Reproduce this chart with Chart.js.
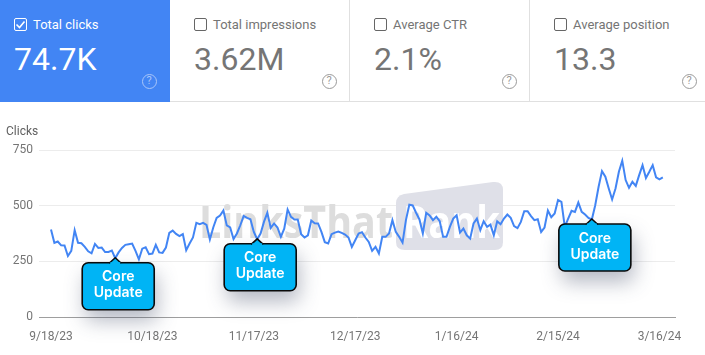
<!DOCTYPE html>
<html lang="en">
<head>
<meta charset="UTF-8">
<title>Search performance</title>
<script src="https://cdn.jsdelivr.net/npm/chart.js"></script>
<style>
  html, body { margin: 0; padding: 0; background: #fff; }
  body { width: 705px; height: 355px; position: relative; overflow: hidden; font-family: Roboto, sans-serif; }
  .cards { position: absolute; left: 0; top: 0; width: 705px; height: 102px; border-bottom: 1px solid #e0e0e0; box-sizing: border-box; display: flex; }
  .card { position: relative; box-sizing: border-box; color: #757575; border-right: 1px solid #e0e0e0; }
  .card:last-child { border-right: 0; }
  .card.on { background: #4285f4; color: #fff; border-right: 0; height: 102px; }
  .card .box { position: absolute; box-sizing: border-box; left: 24px; top: 18px; width: 13px; height: 13px; border: 1px solid #666; border-radius: 2px; }
  .card.on .box { left: 14px; border-color: #fff; }
  .card .name { position: absolute; left: 43px; top: 16px; font-size: 13px; line-height: 17px; white-space: nowrap; }
  .card.on .name { left: 33px; }
  .card .num { position: absolute; left: 24px; top: 40px; font-size: 32px; line-height: 38px; white-space: nowrap; }
  .card.on .num { left: 14px; }
  .card .help { position: absolute; box-sizing: border-box; left: 151.5px; top: 73.5px; width: 15px; height: 15px; border: 1.5px solid #9a9a9a; border-radius: 50%; font-size: 11px; line-height: 12px; text-align: center; color: #9a9a9a; }
  .card.on .help { left: 141.5px; border-color: #a9c6fa; color: #a9c6fa; }
  #wrap { position: absolute; left: 0; top: 102px; width: 705px; height: 253px; }
</style>
</head>
<body>
<div class="cards" id="cards"></div>
<div id="wrap"><canvas id="clicksChart" width="705" height="253"></canvas></div>
<script>
const cardNames = ['Total clicks', 'Total impressions', 'Average CTR', 'Average position'];
const cardValues = ['74.7K', '3.62M', '2.1%', '13.3'];
const cardWidths = [170, 180, 180, 175];

const tickLabels = ['9/18/23', '10/18/23', '11/17/23', '12/17/23', '1/16/24', '2/15/24', '3/16/24'];
const clicks = [
  393, 333, 339, 322, 321, 274, 297, 390, 333, 331, 315, 295, 286, 328, 310, 312, 292, 292, 298, 264,
  290, 310, 324, 327, 330, 297, 259, 307, 313, 282, 285, 324, 290, 288, 312, 378, 388, 373, 363, 372,
  300, 330, 357, 423, 417, 423, 414, 348, 402, 445, 456, 478, 411, 402, 350, 375, 412, 454, 445, 439,
  382, 349, 375, 427, 468, 400, 420, 402, 360, 397, 483, 450, 438, 438, 372, 357, 367, 433, 421, 420,
  382, 336, 330, 372, 379, 384, 378, 370, 357, 315, 345, 375, 381, 357, 337, 297, 315, 285, 360, 360,
  375, 435, 382, 360, 334, 435, 504, 501, 468, 438, 375, 468, 456, 435, 450, 430, 360, 360, 405, 442,
  457, 379, 397, 367, 352, 420, 442, 390, 430, 405, 415, 367, 430, 417, 442, 460, 445, 408, 399, 427,
  475, 475, 453, 435, 439, 382, 402, 478, 448, 465, 525, 517, 405, 442, 477, 472, 514, 472, 460, 445,
  438, 502, 585, 655, 630, 577, 528, 577, 652, 702, 615, 580, 607, 589, 637, 682, 624, 652, 682, 627,
  618, 627
];
// x axis: one slot a day, a tick every 30 days
const days = clicks.map((v, i) => i);
const calloutDays = [19, 61, 160];
const calloutText = ['Core', 'Update'];
const watermarkDark = 'LinksThat';
const watermarkLight = 'Rank';

const cards = document.getElementById('cards');
cardNames.forEach((name, i) => {
  const c = document.createElement('div');
  c.className = 'card' + (i === 0 ? ' on' : '');
  c.style.width = cardWidths[i] + 'px';
  c.innerHTML = '<div class="box"></div><div class="name">' + name + '</div>' +
    '<div class="num">' + cardValues[i] + '</div><div class="help">?</div>';
  cards.appendChild(c);
});
// tick inside the selected checkbox
cards.querySelector('.on .box').innerHTML =
  '<svg width="11" height="11" viewBox="0 0 11 11" style="display:block"><path d="M1.5 5.5l3 3 5-6" fill="none" stroke="#fff" stroke-width="1.6"/></svg>';

function roundedPath(ctx, x, y, w, h, r) {
  ctx.beginPath();
  ctx.roundRect(x, y, w, h, r);
}

// watermark sits under the line
const watermark = {
  id: 'watermark',
  beforeDatasetsDraw(chart) {
    const ctx = chart.ctx;
    ctx.save();
    ctx.fillStyle = '#dfe0e8';
    ctx.beginPath();
    ctx.moveTo(396, 101);
    ctx.quadraticCurveTo(396, 94, 404, 92);
    ctx.lineTo(493, 80);
    ctx.quadraticCurveTo(503, 79, 503, 88);
    ctx.lineTo(503, 140);
    ctx.quadraticCurveTo(503, 148, 495, 148);
    ctx.lineTo(405, 148);
    ctx.quadraticCurveTo(396, 148, 396, 140);
    ctx.closePath();
    ctx.fill();
    ctx.font = 'bold 45px "Open Sans", sans-serif';
    ctx.textBaseline = 'alphabetic';
    ctx.fillStyle = '#dddddd';
    ctx.fillText(watermarkDark, 199, 136, 194);
    ctx.fillStyle = '#ffffff';
    ctx.fillText(watermarkLight, 403, 136, 97);
    ctx.restore();
  }
};

// callouts point at the day they mark
const callouts = {
  id: 'callouts',
  afterDatasetsDraw(chart) {
    const ctx = chart.ctx;
    const xs = chart.scales.x, ys = chart.scales.y;
    calloutDays.forEach((d) => {
      const px = xs.getPixelForValue(d);
      const py = ys.getPixelForValue(clicks[d]) - 0.5;
      const w = 72, h = 47, left = px - 33, top = py + 5;
      ctx.save();
      ctx.shadowColor = 'rgba(60,70,100,.38)';
      ctx.shadowBlur = 20;
      ctx.shadowOffsetX = 3;
      ctx.shadowOffsetY = 11;
      ctx.fillStyle = '#00b4f5';
      roundedPath(ctx, left, top, w, h, 6);
      ctx.fill();
      ctx.shadowColor = 'transparent';
      ctx.strokeStyle = '#0a0a0a';
      ctx.lineWidth = 1.6;
      ctx.stroke();
      ctx.beginPath();
      ctx.moveTo(px - 6, top + .5);
      ctx.lineTo(px, py);
      ctx.lineTo(px + 6, top + .5);
      ctx.fill();
      ctx.stroke();
      ctx.fillStyle = '#00b4f5';
      ctx.fillRect(px - 5, top - .5, 10, 2.5);
      ctx.fillStyle = '#fff';
      ctx.font = '600 14px Inter, sans-serif';
      ctx.textAlign = 'center';
      ctx.textBaseline = 'middle';
      ctx.fillText(calloutText[0], left + w / 2, top + 14.5);
      ctx.fillText(calloutText[1], left + w / 2, top + 30.5);
      ctx.restore();
    });
  }
};

new Chart(document.getElementById('clicksChart').getContext('2d'), {
  type: 'line',
  data: {
    labels: days,
    datasets: [{
      data: clicks,
      borderColor: '#4285f4',
      borderWidth: 2,
      pointRadius: 0,
      tension: 0,
      fill: false
    }]
  },
  options: {
    responsive: false,
    animation: false,
    events: [],
    layout: { padding: { top: 48, right: 30 } },
    plugins: { legend: { display: false }, tooltip: { enabled: false }, title: { display: false } },
    scales: {
      x: {
        type: 'linear',
        min: -3.55,
        max: 184.6,
        afterBuildTicks(axis) {
          axis.ticks = tickLabels.map((t, i) => ({ value: i * 30 }));
        },
        afterFit(axis) { axis.height = 38; },
        grid: { display: false, drawTicks: false },
        border: { color: '#9e9e9e', width: 1 },
        ticks: {
          autoSkip: false,
          maxRotation: 0,
          padding: 13,
          color: '#757575',
          font: { family: 'Roboto', size: 12 },
          callback: (v) => tickLabels[v / 30]
        }
      },
      y: {
        min: 0,
        max: 750,
        afterBuildTicks(axis) {
          axis.ticks = [0, 250, 500, 750].map((v) => ({ value: v }));
        },
        afterFit(axis) { axis.width = 39; },
        grid: { color: '#ececec', lineWidth: 1, drawTicks: false },
        border: { display: false },
        title: { display: false },
        ticks: {
          padding: 6,
          color: '#757575',
          font: { family: 'Roboto', size: 12 }
        }
      }
    }
  },
  plugins: [watermark, callouts, {
    id: 'yTitle',
    afterDraw(chart) {
      const ctx = chart.ctx;
      ctx.save();
      ctx.font = '12px Roboto';
      ctx.fillStyle = '#616161';
      ctx.textBaseline = 'middle';
      ctx.fillText('Clicks', 6, 30);
      ctx.restore();
    }
  }]
});
</script>
</body>
</html>
